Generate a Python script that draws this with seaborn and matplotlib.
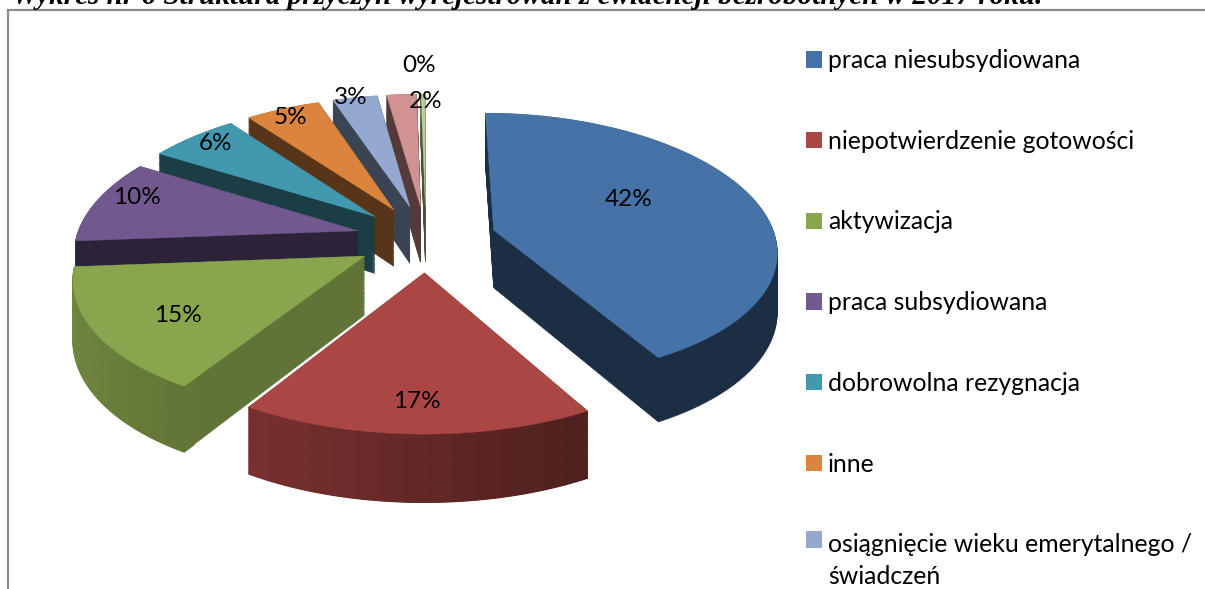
import numpy as np
import matplotlib
matplotlib.use("Agg")
import matplotlib.pyplot as plt
import seaborn as sns
from matplotlib.patches import Wedge, Patch, Rectangle
from matplotlib.path import Path
from matplotlib.transforms import Transform, Affine2D

title = "Wykres nr 6 Struktura przyczyn wyrejestrowań z ewidencji bezrobotnych w 2017 roku."
categories = ["praca niesubsydiowana", "niepotwierdzenie gotowości", "aktywizacja",
              "praca subsydiowana", "dobrowolna rezygnacja", "inne",
              "osiągnięcie wieku emerytalnego /\nświadczeń"]
values = [42, 17, 15, 10, 6, 5, 3, 2, 0.3]
colors = ["#4572A7", "#AA4643", "#89A54E", "#71588F", "#4198AF", "#DB843D",
          "#93A9CF", "#D19392", "#B9CD96"]
cut_shade = [0.4, 0.5, 0.7, 0.4, 0.4, 0.4, 0.4, 0.4, 0.4]
rim_gradient = [False, True, True, False, False, False, False, False, False]
label_x = [629, 417, 178, 137, 215, 290, 351, 426, 419]
label_y = [200, 401, 316, 197, 143, 117, 97, 102, 65]

sns.set_theme(style="white")
plt.rcParams["font.family"] = ["Lato", "DejaVu Sans"]
palette = sns.color_palette(colors)

CX, CY, RX, RY, PERSP_X, PERSP_Y, DEPTH = 426, 238.5, 282, 133, 0.14, 0.12, 58


class Perspective(Transform):
    input_dims = output_dims = 2
    is_separable = False
    has_inverse = False

    def __init__(self, drop=0.0):
        super().__init__()
        self.drop = drop

    def transform_non_affine(self, values):
        v = np.asarray(values, float).reshape(-1, 2)
        wx = 1 + PERSP_X * v[:, 1]
        wy = 1 + PERSP_Y * v[:, 1]
        return np.column_stack([CX + v[:, 0] * RX / wx,
                                CY - v[:, 1] * RY / wy + self.drop / wy])

    def transform_path_non_affine(self, path):
        up = Affine2D().scale(2000).transform_path(path)
        poly = up.to_polygons(closed_only=True)[0] / 2000
        return Path(self.transform_non_affine(poly))


def shade(c, f):
    return tuple(min(1, x * f) for x in c)


fig = plt.figure(figsize=(12.05, 5.89), dpi=100)
ax = fig.add_axes([0, 0, 1, 1])
wedges, _, autotexts = ax.pie(values, colors=palette, startangle=90, counterclock=False,
                              explode=[0.25] * len(values), autopct="%.0f%%",
                              textprops={"fontsize": 17.5, "color": "black"})
ax.set_aspect("auto")
ax.set_xlim(0, 1205)
ax.set_ylim(589, 0)
ax.set_axis_off()

ax.add_patch(Rectangle((8, 10), 1400, 800, fc="white", ec="#8c8c8c", lw=1.6, zorder=0))
ax.text(12, 4.5, title, family="Liberation Serif", weight="bold", style="italic",
        fontsize=21, color="black", va="baseline", ha="left", zorder=1)


def mid(w):
    return np.deg2rad((w.theta1 + w.theta2) / 2)


order = sorted(range(len(wedges)), key=lambda i: -np.sin(mid(wedges[i])))
base = ax.transData
z = 2
drops = np.arange(DEPTH, 0, -1.25)
for i in order:
    w = wedges[i]
    col = palette[i]
    steps = max(1, int((w.theta2 - w.theta1) / 4)) if rim_gradient[i] else 1
    edges = np.linspace(w.theta1, w.theta2, steps + 1)
    for d in drops:
        tr = Perspective(d) + base
        ax.add_patch(Wedge(w.center, w.r, w.theta1, w.theta2, fc=shade(col, cut_shade[i]),
                           ec=shade(col, cut_shade[i]), lw=0.4, transform=tr, zorder=z))
        z += 1e-3
        if rim_gradient[i]:
            for t1, t2 in zip(edges[:-1], edges[1:]):
                nx = np.cos(np.deg2rad((t1 + t2) / 2))
                f = max(0.4, 0.58 - 0.25 * nx)
                ax.add_patch(Wedge(w.center, w.r, t1, t2, width=0.05, fc=shade(col, f), ec=shade(col, f),
                                   lw=1.0, transform=tr, zorder=z))
                z += 1e-5
    w.set_transform(Perspective(0) + base)
    w.set_edgecolor(col)
    w.set_linewidth(0.3)
    w.set_zorder(z)
    z += 1

for t, x, y in zip(autotexts, label_x, label_y):
    t.set_position((x, y))
    t.set_zorder(1000)

handles = [Patch(fc=palette[i], ec="none") for i in range(len(categories))]
leg = fig.legend(handles, categories, loc="upper left", bbox_to_anchor=(806 / 1205, 1 - 49 / 589),
                 frameon=False, fontsize=17.8, handlelength=0.65, handleheight=0.65,
                 handletextpad=0.23, labelspacing=2.335, borderpad=0, borderaxespad=0, labelcolor="black")
leg.get_texts()[-1].set_linespacing(1.45)
leg.legend_handles[-1].set_y(16)
fig.savefig("out.png", dpi=100)
